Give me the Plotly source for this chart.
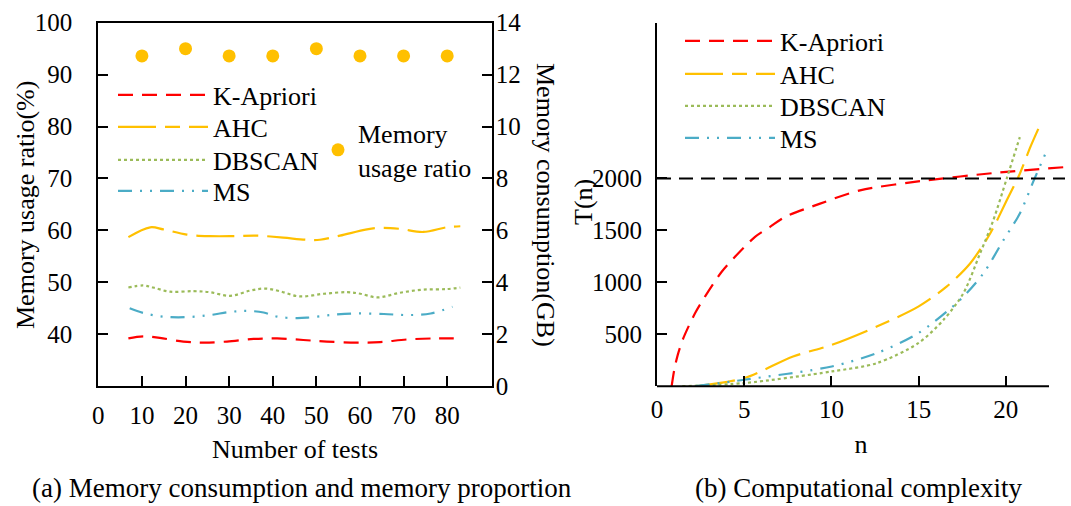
import plotly.graph_objects as go

W, H = 1071, 506
FONT = "Liberation Serif"
RED, ORANGE, GREEN, BLUE = "#FF0000", "#FFC000", "#9BBB59", "#4BACC6"

# ---------------- Panel (a): memory ----------------
tests = [10, 20, 30, 40, 50, 60, 70, 80]
usage_ratio = [93.6, 95.0, 93.6, 93.6, 95.0, 93.6, 93.6, 93.6]

ka_x = [6.9, 10.3, 14.1, 19.5, 24.1, 29.5, 35.6, 41.0, 47.0, 52.4, 59.3, 64.6, 70.8, 76.9, 81.5]
ka_gb = [1.84, 1.92, 1.86, 1.72, 1.68, 1.72, 1.82, 1.84, 1.78, 1.72, 1.68, 1.70, 1.80, 1.84, 1.84]

ahc_x = [6.9, 11.9, 14.9, 20.3, 25.6, 31.0, 36.3, 42.4, 47.8, 50.8, 55.4, 61.6, 64.6, 69.2, 74.5, 79.9, 83.0]
ahc_gb = [5.74, 6.12, 6.04, 5.84, 5.78, 5.78, 5.80, 5.72, 5.64, 5.64, 5.80, 6.04, 6.10, 6.06, 5.94, 6.12, 6.16]

db_x = [6.9, 10.3, 12.6, 16.4, 21.8, 25.6, 30.2, 34.8, 38.2, 41.6, 46.0, 51.7, 57.1, 60.1, 64.0, 69.2, 74.5, 79.9, 83.0]
db_gb = [3.80, 3.88, 3.80, 3.64, 3.66, 3.62, 3.48, 3.68, 3.76, 3.66, 3.46, 3.56, 3.62, 3.56, 3.42, 3.60, 3.72, 3.74, 3.80]

ms_x = [7.2, 10.3, 14.9, 20.3, 25.6, 30.2, 34.1, 37.9, 41.0, 45.5, 48.0, 53.2, 58.6, 65.5, 70.8, 76.2, 81.2]
ms_gb = [3.00, 2.82, 2.68, 2.66, 2.74, 2.86, 2.90, 2.84, 2.68, 2.62, 2.64, 2.74, 2.80, 2.78, 2.74, 2.80, 3.06]

a_xticks = [0, 10, 20, 30, 40, 50, 60, 70, 80]
a_yticks_pct = [40, 50, 60, 70, 80, 90, 100]
a_yticks_gb = [0, 2, 4, 6, 8, 10, 12, 14]

# ---------------- Panel (b): complexity ----------------
kb_n = [0.84, 0.99, 1.19, 1.51, 2.18, 2.75, 3.71, 4.38, 5.62, 6.48, 7.34, 9.35, 11.64, 15.46, 19.28, 23.35]
kb_t = [0, 158, 302, 462, 702, 862, 1102, 1230, 1438, 1534, 1630, 1758, 1886, 1982, 2052, 2109]

ahcb_n = [2.3, 5.0, 7.8, 10.02, 12.6, 14.98, 16.6, 17.95, 19.1, 20.05, 20.8, 21.4, 21.86]
ahcb_t = [0, 78, 286, 398, 574, 766, 958, 1182, 1470, 1790, 2046, 2302, 2478]

dbb_n = [1.45, 5.0, 10.02, 12.6, 14.98, 16.42, 17.56, 18.52, 19.28, 20.05, 20.8]
dbb_t = [0, 30, 142, 222, 414, 638, 894, 1278, 1598, 2000, 2398]

msb_n = [2.2, 5.0, 10.02, 12.6, 14.98, 17.37, 18.71, 19.86, 20.8, 21.6, 22.35]
msb_t = [0, 62, 190, 318, 510, 830, 1086, 1406, 1662, 1982, 2270]

b_xticks = [0, 5, 10, 15, 20]
b_yticks = [500, 1000, 1500, 2000]
threshold = 2000

names = ["K-Apriori", "AHC", "DBSCAN", "MS"]
colors = [RED, ORANGE, GREEN, BLUE]
dashes = ["15px,9px", "38px,9px,15px,9px", "3px,3px", "14px,8px,2px,8px,2px,8px"]

# legend row centres (px from top) for each panel
a_leg_rows = [95, 127, 160, 191]
b_leg_rows = [41, 74, 106, 138]

TXT = 26
TICK = 25

fig = go.Figure()
legends = {}
ITEMW = 90

a_series = [(ka_x, ka_gb), (ahc_x, ahc_gb), (db_x, db_gb), (ms_x, ms_gb)]
for i, ((xs, ys), nm, c, d) in enumerate(zip(a_series, names, colors, dashes)):
    lg = "legend" if i == 0 else f"legend{i + 1}"
    fig.add_trace(go.Scatter(x=xs, y=ys, name=nm, mode="lines", xaxis="x", yaxis="y2",
                             line=dict(color=c, width=2.2, dash=d, shape="spline", smoothing=1.0),
                             legend=lg))
    legends[lg] = dict(x=113 / W, y=1 - a_leg_rows[i] / H, xanchor="left", yanchor="middle",
                       itemwidth=ITEMW)

fig.add_trace(go.Scatter(x=tests, y=usage_ratio, name="Memory<br>usage ratio", mode="markers",
                         xaxis="x", yaxis="y", marker=dict(color=ORANGE, size=13),
                         legend="legend5"))
legends["legend5"] = dict(x=318 / W, y=1 - 150 / H, xanchor="left", yanchor="middle")

b_series = [(kb_n, kb_t), (ahcb_n, ahcb_t), (dbb_n, dbb_t), (msb_n, msb_t)]
for i, ((xs, ys), nm, c, d) in enumerate(zip(b_series, names, colors, dashes)):
    lg = f"legend{i + 6}"
    fig.add_trace(go.Scatter(x=xs, y=ys, name=nm, mode="lines", xaxis="x2", yaxis="y3",
                             line=dict(color=c, width=2.2, dash=d, shape="spline", smoothing=0.8),
                             legend=lg))
    legends[lg] = dict(x=680 / W, y=1 - b_leg_rows[i] / H, xanchor="left", yanchor="middle",
                       itemwidth=ITEMW)

for k, v in legends.items():
    v.update(bgcolor="rgba(0,0,0,0)", borderwidth=0,
             font=dict(family=FONT, size=TXT, color="black"))

tickfont = dict(family=FONT, size=TICK, color="black")
ax_common = dict(showgrid=False, zeroline=False, linecolor="black", linewidth=2,
                 ticks="inside", ticklen=10, tickwidth=2, tickcolor="black",
                 tickfont=tickfont, automargin=False)

ydom = [1 - 386.2 / H, 1 - 22.7 / H]

fig.update_layout(
    width=W, height=H, margin=dict(l=0, r=0, t=0, b=0, pad=0, autoexpand=False),
    paper_bgcolor="white", plot_bgcolor="rgba(0,0,0,0)",
    font=dict(family=FONT, size=TXT, color="black"),
    xaxis=dict(domain=[98.3 / W, 491.7 / W], range=[0, 90.2], tickvals=a_xticks,
               showline=True, mirror=True, ticklabelstandoff=6,
               title=dict(text="Number of tests", font=dict(family=FONT, size=TXT), standoff=12),
               **ax_common),
    yaxis=dict(domain=ydom, range=[30, 100], tickvals=a_yticks_pct, showline=True, mirror=True,
               ticklabelstandoff=19, **ax_common),
    yaxis2=dict(overlaying="y", side="right", anchor="x", range=[0, 14], tickvals=a_yticks_gb,
                showline=False, ticklabelstandoff=3, **ax_common),
    xaxis2=dict(domain=[657 / W, 1065 / W], range=[0, 23.39], tickvals=b_xticks, anchor="y3",
                showline=False, ticklabelstandoff=6,
                title=dict(text="n", font=dict(family=FONT, size=TXT), standoff=12),
                **ax_common),
    yaxis3=dict(domain=ydom, range=[0, 3500], tickvals=b_yticks, anchor="x2", showline=True,
                ticklabelstandoff=8, **ax_common),
    showlegend=True,
    **legends,
)

# threshold line and right-panel x axis line
fig.add_shape(type="line", xref="x2 domain", yref="y3", x0=0, x1=1, y0=threshold, y1=threshold,
              line=dict(color="black", width=2, dash="14px,8px"))
fig.add_shape(type="line", xref="x2 domain", yref="y3 domain", x0=0, x1=(1049 - 657) / 408, y0=0, y1=0,
              line=dict(color="black", width=2))

annos = [
    dict(text="Memory usage ratio(%)", x=25 / W, y=1 - 205 / H, textangle=-90, size=TXT),
    dict(text="Memory consumption(GB)", x=546 / W, y=1 - 205 / H, textangle=90, size=TXT),
    dict(text="T(n)", x=583 / W, y=1 - 202 / H, textangle=-90, size=TXT),
    dict(text="(a) Memory consumption and memory proportion", x=302 / W, y=1 - 488 / H, textangle=0, size=27),
    dict(text="(b) Computational complexity", x=858 / W, y=1 - 488 / H, textangle=0, size=27),
]
for a in annos:
    sz = a.pop("size")
    fig.add_annotation(xref="paper", yref="paper", showarrow=False,
                       xanchor="center", yanchor="middle",
                       font=dict(family=FONT, size=sz, color="black"), **a)

fig.write_html("out.html")
